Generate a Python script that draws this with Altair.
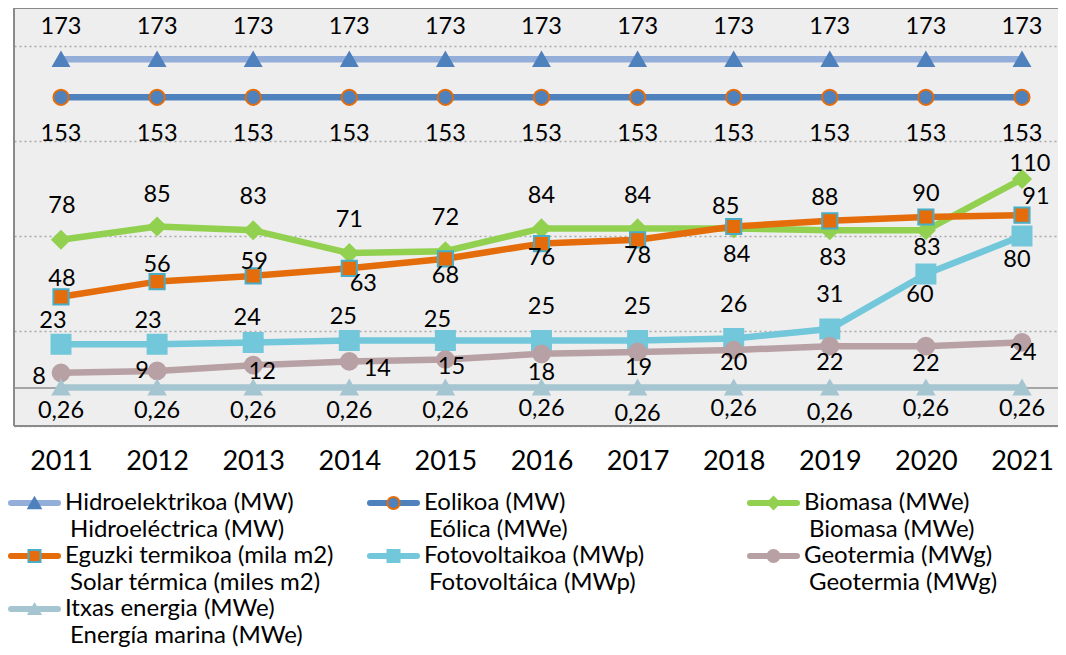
import altair as alt
import pandas as pd

# ---------------- data ----------------
years = [2011, 2012, 2013, 2014, 2015, 2016, 2017, 2018, 2019, 2020, 2021]

names_eu = ["Hidroelektrikoa (MW)", "Eolikoa (MW)", "Biomasa (MWe)",
            "Eguzki termikoa (mila m2)", "Fotovoltaikoa (MWp)", "Geotermia (MWg)",
            "Itxas energia (MWe)"]
names_es = ["Hidroeléctrica (MW)", "Eólica (MWe)", "Biomasa (MWe)",
            "Solar térmica (miles m2)", "Fotovoltáica (MWp)", "Geotermia (MWg)",
            "Energía marina (MWe)"]

hidro = [173, 173, 173, 173, 173, 173, 173, 173, 173, 173, 173]
eolica = [153, 153, 153, 153, 153, 153, 153, 153, 153, 153, 153]
biomasa = [78, 85, 83, 71, 72, 84, 84, 84, 83, 83, 110]
solar = [48, 56, 59, 63, 68, 76, 78, 85, 88, 90, 91]
foto = [23, 23, 24, 25, 25, 25, 25, 26, 31, 60, 80]
geo = [8, 9, 12, 14, 15, 18, 19, 20, 22, 22, 24]
marina = [0.26, 0.26, 0.26, 0.26, 0.26, 0.26, 0.26, 0.26, 0.26, 0.26, 0.26]

series_values = [hidro, eolica, biomasa, solar, foto, geo, marina]

# label placement (pixel offsets of each data label from its point)
lab_dx = [
    [0] * 11,
    [0] * 11,
    [1, 0, 0, 0, 0, 0, 0, 3, 3, 1, 8],
    [1, 0, 1, 14, 0, 0, 0, -8, -5, 0, 14],
    [-8, -9, -6, -6, -8, 0, 0, 0, 0, -6, -5],
    [-22, -15, 9, 28, 6, 0, 1, 0, 0, 0, 1],
    [0] * 11,
]
lab_dy = [
    [-32] * 11,
    [37] * 11,
    [-34, -32, -33, -33, -33, -32, -32, 27, 28, 18, -15],
    [-18, -17, -14, 16, 17, 14, 16, -20, -23, -23, -18],
    [-23, -23, -24, -24, -21, -34, -34, -34, -34, 21, 24],
    [4, 0, 7, 8, 7, 19, 16, 13, 17, 18, 11],
    [23, 23, 23, 23, 23, 21, 26, 21, 25, 21, 21],
]

# styles
line_colors = ["#93AED8", "#4F81BD", "#92D050", "#E46C0A", "#72C7DA", "#B8A1A4", "#A5C6D1"]
marker_fill = ["#4F81BD", "#4F81BD", "#92D050", "#E46C0A", "#72C7DA", "#B8A1A4", "#A5C6D1"]
marker_stroke = ["#4F81BD", "#E46C0A", "#92D050", "#4BACC6", "#72C7DA", "#B8A1A4", "#A5C6D1"]
marker_shape = ["triangle-up", "circle", "diamond", "square", "square", "circle", "triangle-up"]
marker_size = [240, 230, 300, 230, 360, 280, 260]
legend_size = [150, 140, 170, 150, 190, 170, 160]

W, H = 1044, 418
STEP = 96.1  # px per year
X_DOM = [2010.511, 2010.511 + W / STEP]
Y_DOM = [-20, 200]
FRAME = "#8a8a8a"


def fmt(v):
    if float(v).is_integer():
        return str(int(v))
    return f"{v:.2f}".replace(".", ",")


rows = []
for k, vals in enumerate(series_values):
    for i, yr in enumerate(years):
        rows.append(dict(series=names_eu[k], order=k, year=yr, value=vals[i],
                         label=fmt(vals[i]), dx=lab_dx[k][i], dy=lab_dy[k][i]))
df = pd.DataFrame(rows)

FONT = "Lato"

x_scale = alt.Scale(domain=X_DOM, nice=False, zero=False)
x_axis = alt.Axis(values=years, format="d", title=None, ticks=False, domain=False,
                  grid=False, labelFont=FONT, labelFontSize=27, labelColor="black",
                  labelPadding=22, labelFlush=False)
x_enc = alt.X("year:Q", scale=x_scale, axis=x_axis)
y_axis = alt.Axis(values=[-20, 30, 80, 130, 180], labels=False, ticks=False, domain=False,
                  title=None, grid=True, gridColor="#a9a9a9", gridDash=[2, 3], gridWidth=1.5)
y_scale = alt.Scale(domain=Y_DOM, nice=False, zero=False)
y_enc = alt.Y("value:Q", scale=y_scale, axis=y_axis)

base = alt.Chart(df)

layers = []
# frame (left, top, bottom) and zero line
hframe = alt.Chart(pd.DataFrame({"value": [Y_DOM[0], Y_DOM[1]]})).mark_rule(
    color=FRAME, strokeWidth=2).encode(y=y_enc)
vframe = alt.Chart(pd.DataFrame({"year": [X_DOM[0]]})).mark_rule(
    color=FRAME, strokeWidth=2).encode(x=x_enc)
zero = alt.Chart(pd.DataFrame({"value": [0]})).mark_rule(
    color="#8c8c8c", strokeWidth=1.5).encode(y=y_enc)
layers += [hframe, vframe, zero]

for k in range(len(series_values)):
    sub = base.transform_filter(alt.datum.order == k)
    layers.append(sub.mark_line(color=line_colors[k], strokeWidth=6.5, strokeCap="round",
                                strokeJoin="round").encode(x=x_enc, y=y_enc))
    layers.append(sub.mark_point(shape=marker_shape[k], filled=True, fill=marker_fill[k],
                                 stroke=marker_stroke[k], strokeWidth=2, opacity=1,
                                 size=marker_size[k]).encode(x=x_enc, y=y_enc))

# convert pixel label offsets into the scales' units
ux = (X_DOM[1] - X_DOM[0]) / W
uy = (Y_DOM[1] - Y_DOM[0]) / H
labels = base.transform_calculate(
    lx=f"datum.year + datum.dx * {ux}",
    ly=f"datum.value - datum.dy * {uy}",
).mark_text(font=FONT, fontSize=23.5, color="black", baseline="middle",
            align="center").encode(
    x=alt.X("lx:Q", scale=x_scale, axis=x_axis),
    y=alt.Y("ly:Q", scale=y_scale, axis=y_axis),
    text="label:N")
layers.append(labels)

main = alt.layer(*layers)

# ---------------- legend ----------------
leg_df = pd.DataFrame({
    "eu": names_eu,
    "es": names_es,
    "col": [i % 3 for i in range(7)],
    "row": [i // 3 for i in range(7)],
})
lx = alt.X("col:Q", scale=alt.Scale(domain=[0, 1, 2], range=[-6, 353, 733]), axis=None)
lx2 = alt.X2("col:Q")
ly = alt.Y("row:Q", scale=alt.Scale(domain=[0, 1], range=[495, 548]), axis=None)
lcol = alt.Color("eu:N", scale=alt.Scale(domain=names_eu, range=line_colors), legend=None)

leg_lines = alt.Chart(leg_df).mark_rule(strokeWidth=6, strokeCap="round", xOffset=3,
                                        x2Offset=50).encode(x=lx, x2=lx2, y=ly, color=lcol)
leg_pts = alt.Chart(leg_df).mark_point(filled=True, opacity=1, strokeWidth=2,
                                       xOffset=26.5).encode(
    x=lx, y=ly,
    shape=alt.Shape("eu:N", scale=alt.Scale(domain=names_eu, range=marker_shape), legend=None),
    fill=alt.Fill("eu:N", scale=alt.Scale(domain=names_eu, range=marker_fill), legend=None),
    stroke=alt.Stroke("eu:N", scale=alt.Scale(domain=names_eu, range=marker_stroke), legend=None),
    size=alt.Size("eu:N", scale=alt.Scale(domain=names_eu, range=legend_size), legend=None))
leg_t1 = alt.Chart(leg_df).mark_text(font=FONT, fontSize=24, color="black", align="left",
                                     baseline="middle", dx=57, dy=0).encode(x=lx, y=ly, text="eu:N")
leg_t2 = alt.Chart(leg_df).mark_text(font=FONT, fontSize=24, color="black", align="left",
                                     baseline="middle", dx=62, dy=26.5).encode(x=lx, y=ly, text="es:N")
legend = alt.layer(leg_lines, leg_pts, leg_t1, leg_t2)

chart = alt.layer(main, legend).resolve_scale(
    x="independent", y="independent", color="independent", shape="independent",
    fill="independent", stroke="independent", size="independent"
).properties(
    width=W, height=H,
    autosize=alt.AutoSizeParams(type="none"),
    padding={"left": 6, "top": 0, "right": 0, "bottom": 221},
).configure_view(fill="#EEEEEE", strokeWidth=0)

chart.save("out.html", embed_options={"renderer": "svg", "actions": False})
